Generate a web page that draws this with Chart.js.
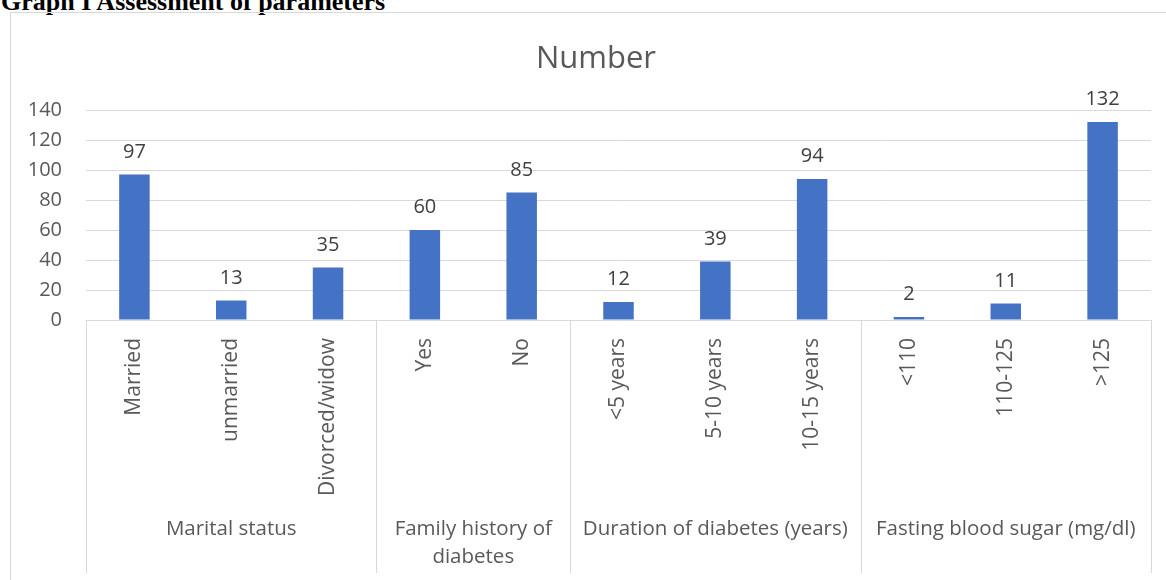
<!DOCTYPE html>
<html>
<head>
<meta charset="utf-8">
<script src="https://cdn.jsdelivr.net/npm/chart.js@4"></script>
<style>
  body { margin: 0; width: 1166px; height: 580px; overflow: hidden; background: #fff; position: relative; }
  #heading { position: absolute; left: 1px; top: -11px; font: bold 26px "Liberation Serif", "Times New Roman", serif; line-height: 26px; color: #000; white-space: nowrap; }
  #frame { position: absolute; left: 10px; top: 12px; width: 1200px; height: 620px; border: 1px solid #d9d9d9; }
  #box { position: absolute; left: 11px; top: 13px; width: 1155px; height: 567px; }
  #title { position: absolute; left: 0; top: 41px; width: 1192px; text-align: center; font: 31px "Open Sans", "Noto Sans", sans-serif; line-height: 31px; color: #595959; }
</style>
</head>
<body>
<div id="heading">Graph I Assessment of parameters</div>
<div id="frame"></div>
<div id="box"><canvas id="Number-Chart"></canvas></div>
<div id="title">Number</div>
<script>
//-------------------------------------------------- Data
const categories = ["Married", "unmarried", "Divorced/widow", "Yes", "No", "<5 years", "5-10 years", "10-15 years", "<110", "110-125", ">125"];
const counts = [97, 13, 35, 60, 85, 12, 39, 94, 2, 11, 132];
const groupNames = [["Marital status"], ["Family history of", "diabetes"], ["Duration of diabetes (years)"], ["Fasting blood sugar (mg/dl)"]];
const groupSizes = [3, 2, 3, 3];
const yTicks = [0, 20, 40, 60, 80, 100, 120, 140];
//^^^^^^^^^^^^^^^^^^^^^^^^^^^^^^^^^^^^^^^^^^^^^^^^^^ Data

const FONT = '"Open Sans", "Noto Sans", sans-serif';
const GRID = "#d9d9d9";

//-------------------------------------------------- Plugins
const barValues = {
	id: "barValues",
	afterDatasetsDraw(chart) {
		const ctx = chart.ctx;
		ctx.save();
		ctx.font = "20px " + FONT;
		ctx.fillStyle = "#404040";
		ctx.textAlign = "center";
		ctx.textBaseline = "alphabetic";
		chart.getDatasetMeta(0).data.forEach((bar, i) => {
			ctx.fillText(String(counts[i]), bar.x, bar.y - 17);
		});
		ctx.restore();
	}
};

const groupAxis = {
	id: "groupAxis",
	afterDraw(chart) {
		const ctx = chart.ctx, x = chart.scales.x, area = chart.chartArea;
		const half = (x.getPixelForValue(1) - x.getPixelForValue(0)) / 2;
		const bottom = chart.height - 7;
		ctx.save();
		ctx.strokeStyle = GRID;
		ctx.lineWidth = 1;
		ctx.font = "20.5px " + FONT;
		ctx.fillStyle = "#595959";
		ctx.textAlign = "center";
		ctx.textBaseline = "middle";
		let start = 0;
		const edges = [Math.round(x.getPixelForValue(0) - half)];
		groupSizes.forEach((n, g) => {
			const left = x.getPixelForValue(start) - half;
			const right = x.getPixelForValue(start + n - 1) + half;
			edges.push(Math.round(right));
			groupNames[g].forEach((line, k) => {
				ctx.fillText(line, (left + right) / 2, area.bottom + 209 + k * 28);
			});
			start += n;
		});
		edges.forEach(e => {
			ctx.beginPath();
			ctx.moveTo(e + 0.5, area.bottom);
			ctx.lineTo(e + 0.5, bottom);
			ctx.stroke();
		});
		ctx.restore();
	}
};
//^^^^^^^^^^^^^^^^^^^^^^^^^^^^^^^^^^^^^^^^^^^^^^^^^^ Plugins

new Chart(document.getElementById("Number-Chart").getContext("2d"), {
	type: "bar",
	data: {
		labels: categories,
		datasets: [{
			label: "Number",
			data: counts,
			backgroundColor: "#4472C4",
			barPercentage: 0.315,
			categoryPercentage: 1
		}]
	},
	options: {
		responsive: true,
		maintainAspectRatio: false,
		animation: false,
		layout: { padding: { left: 0, right: 15, top: 97, bottom: 0 } },
		plugins: {
			legend: { display: false },
			tooltip: { enabled: false },
			title: { display: false }
		},
		scales: {
			x: {
				grid: { display: false },
				border: { display: false },
				ticks: {
					color: "#595959",
					font: { family: FONT, size: 21 },
					minRotation: 90,
					maxRotation: 90,
					autoSkip: false,
					padding: 10
				},
				afterFit: s => { s.height = 260; }
			},
			y: {
				min: 0,
				max: 140,
				afterBuildTicks: s => { s.ticks = yTicks.map(v => ({ value: v })); },
				grid: { color: GRID, lineWidth: 1, drawTicks: false },
				border: { display: false },
				ticks: {
					color: "#595959",
					font: { family: FONT, size: 20 },
					padding: 24
				},
				afterFit: s => { s.width = 75; }
			}
		}
	},
	plugins: [barValues, groupAxis]
});
</script>
</body>
</html>
